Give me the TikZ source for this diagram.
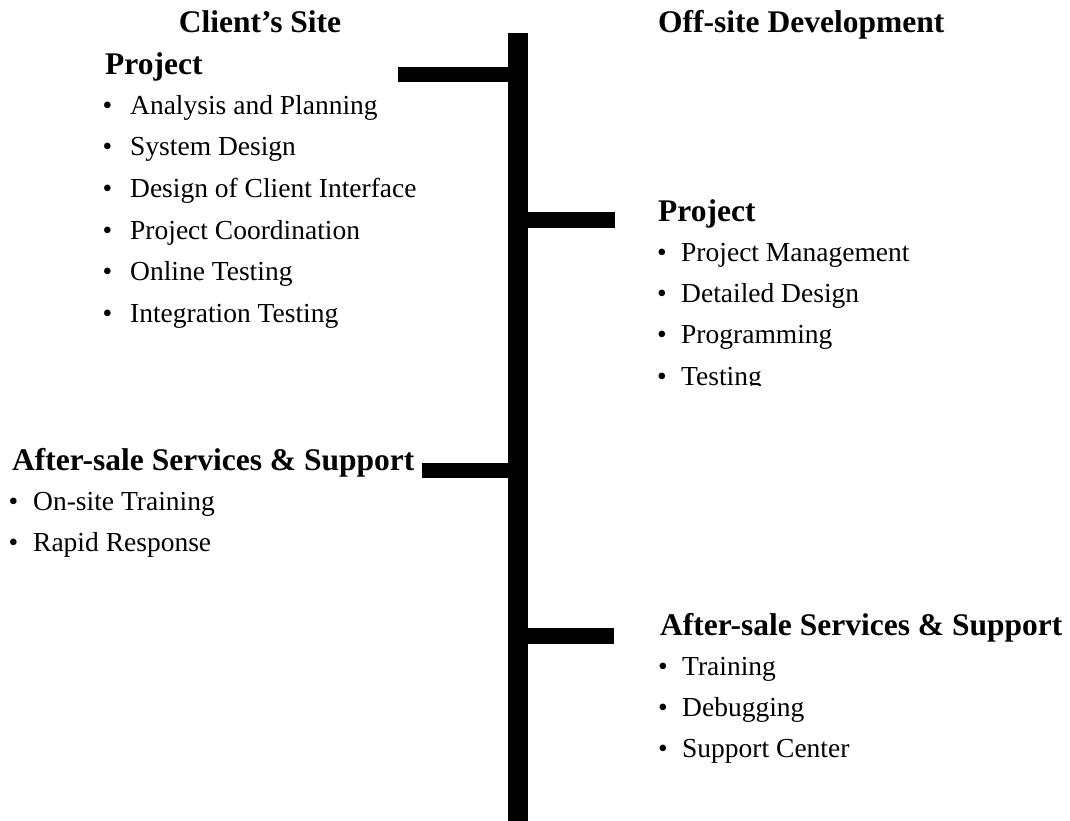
\documentclass[tikz,border=0pt]{standalone}
\usepackage{fontspec}
\setmainfont{Liberation Serif}
\usepackage{tikz}

\newcommand{\hd}{\fontsize{31.5}{36}\selectfont\bfseries}
\newcommand{\bd}{\fontsize{27.5}{32}\selectfont}
\newcommand{\itm}[2][14.5pt]{\llap{\textbullet\hspace{#1}}#2}

\begin{document}
\begin{tikzpicture}[x=1pt,y=-1pt]
\tikzstyle{every node}+=[inner sep=0pt]
\tikzstyle{heading}=[anchor=base west,font=\hd]
\tikzstyle{item}=[anchor=base west,font=\bd]
\tikzstyle{trunk}=[line width=20.5pt]
\tikzstyle{branch}=[line width=15.5pt]
\useasboundingbox (0,0) rectangle (1070,821);
% spine
\coordinate (top) at (518,33);
\coordinate (bottom) at (518,821);
\draw [trunk] (top) -- (bottom);
% column titles
\node [anchor=base,font=\hd] (client) at (260,33) {Client’s Site};
\node [heading] (offsite) at (658,33) {Off-site Development};
% client's site: project
\coordinate (cpj) at (518,74.5);
\coordinate (cpjend) at (398,74.5);
\draw [branch] (cpj) -- (cpjend);
\node [heading] (cproj) at (105,75) {Project};
\node [item] (cp1) at (130,115) {\itm[18pt]{Analysis and Planning}};
\node [item] (cp2) at (130,156) {\itm[18pt]{System Design}};
\node [item] (cp3) at (130,197.5) {\itm[18pt]{Design of Client Interface}};
\node [item] (cp4) at (130,239) {\itm[18pt]{Project Coordination}};
\node [item] (cp5) at (130,280.5) {\itm[18pt]{Online Testing}};
\node [item] (cp6) at (130,322) {\itm[18pt]{Integration Testing}};
% off-site: project
\coordinate (opj) at (518,220);
\coordinate (opjend) at (615,220);
\draw [branch] (opj) -- (opjend);
\node [heading] (oproj) at (658,221) {Project};
\node [item] (op1) at (681,261) {\itm{Project Management}};
\node [item] (op2) at (681,302) {\itm{Detailed Design}};
\node [item] (op3) at (681,343) {\itm{Programming}};
\begin{scope}
\clip (600,360) rectangle (900,385.5);
\node [item] (op4) at (681,385) {\itm{Testing}};
\end{scope}
% client's site: after-sale
\coordinate (cas) at (518,470.5);
\coordinate (casend) at (422,470.5);
\draw [branch] (cas) -- (casend);
\node [heading] (cafter) at (12,470) {After-sale Services \& Support};
\node [item] (ca1) at (33,510) {\itm[15pt]{On-site Training}};
\node [item] (ca2) at (33,551) {\itm[15pt]{Rapid Response}};
% off-site: after-sale
\coordinate (oas) at (518,636);
\coordinate (oasend) at (614,636);
\draw [branch] (oas) -- (oasend);
\node [heading] (oafter) at (660,635) {After-sale Services \& Support};
\node [item] (oa1) at (682,675) {\itm{Training}};
\node [item] (oa2) at (682,716) {\itm{Debugging}};
\node [item] (oa3) at (682,757) {\itm{Support Center}};
\end{tikzpicture}
\end{document}
